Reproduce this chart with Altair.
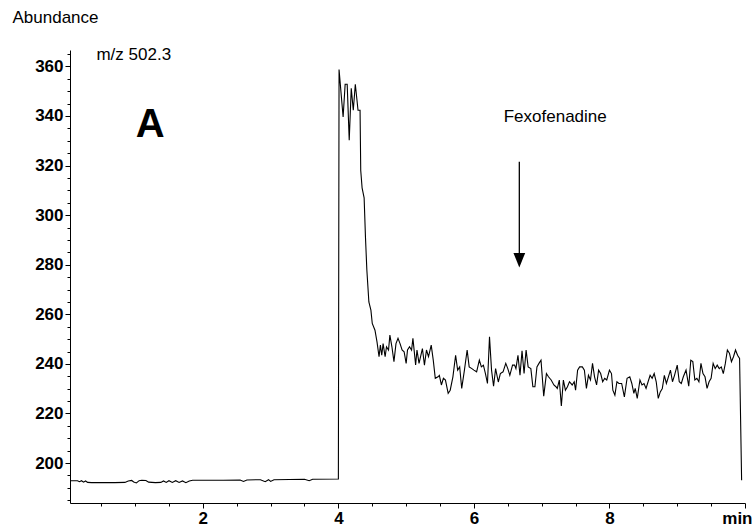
import altair as alt
import pandas as pd

# ---- data (time in min, abundance) ----
time_min = [
    0.05, 0.15, 0.18, 0.21, 0.24, 0.27, 0.30, 0.36, 0.50, 0.70, 0.85, 0.90, 0.95, 0.98,
    1.02, 1.06, 1.10, 1.16, 1.20, 1.30, 1.38, 1.42, 1.46, 1.50, 1.55, 1.60, 1.65, 1.70,
    1.75, 1.80, 1.85, 2.00, 2.30, 2.55, 2.60, 2.65, 2.85, 2.92, 2.97, 3.00, 3.05, 3.50,
    3.57, 3.62, 4.00,
    4.01, 4.07, 4.10, 4.13, 4.16, 4.19, 4.22, 4.25, 4.29, 4.32, 4.33, 4.35, 4.38, 4.40,
    4.42, 4.45, 4.48, 4.50, 4.54, 4.57,
    4.60, 4.62, 4.64, 4.66, 4.69, 4.71, 4.74, 4.76, 4.79, 4.82, 4.85, 4.88, 4.91, 4.94,
    4.97, 5.00, 5.02, 5.05, 5.08, 5.10, 5.14, 5.16, 5.19,
    5.24, 5.27, 5.30, 5.33, 5.37, 5.40, 5.43, 5.47, 5.49, 5.52, 5.55, 5.58, 5.62, 5.65,
    5.69, 5.73, 5.76, 5.79, 5.82, 5.86, 5.90, 5.93, 5.97, 6.00, 6.04, 6.08, 6.11, 6.14,
    6.17, 6.20, 6.23, 6.26, 6.29, 6.32, 6.36, 6.39, 6.43, 6.47, 6.50, 6.53, 6.57, 6.60,
    6.62, 6.65, 6.68, 6.71, 6.74, 6.77, 6.80,
    6.84, 6.87, 6.90, 6.93, 6.96, 6.99, 7.03, 7.07, 7.10, 7.14, 7.18, 7.21, 7.23, 7.26,
    7.29, 7.32, 7.35, 7.38, 7.41, 7.45, 7.48, 7.50, 7.53, 7.56, 7.60, 7.63, 7.66, 7.69,
    7.72, 7.75, 7.78, 7.81, 7.84, 7.87, 7.90, 7.93, 7.96, 8.00, 8.03, 8.05, 8.08, 8.11,
    8.14, 8.18, 8.22, 8.26,
    8.30, 8.33, 8.36, 8.38, 8.41, 8.45, 8.48, 8.51, 8.54, 8.57, 8.60, 8.63, 8.66, 8.69,
    8.72, 8.75, 8.78, 8.81, 8.84, 8.87, 8.90, 8.93, 8.96, 9.00, 9.03, 9.06, 9.09, 9.13,
    9.17, 9.20, 9.23, 9.26, 9.29, 9.32, 9.35, 9.38, 9.41, 9.44, 9.47, 9.50, 9.53, 9.56,
    9.59, 9.62, 9.65, 9.68, 9.71, 9.74, 9.77, 9.80, 9.83, 9.86, 9.89, 9.92, 9.95,
]
abundance = [
    192.9, 192.9, 192.5, 192.9, 192.3, 192.8, 192.2, 192.1, 192.1, 192.1, 192.2, 192.8, 193.0, 192.4,
    192.0, 192.9, 193.1, 193.0, 192.3, 192.1, 192.2, 192.8, 192.2, 192.9, 192.2, 192.9, 192.2, 192.8,
    192.1, 192.8, 193.1, 193.1, 193.1, 193.2, 192.6, 193.2, 193.3, 192.5, 193.3, 192.6, 193.3, 193.5,
    192.9, 193.5, 193.6,
    358.7, 339.6, 352.8, 352.8, 330.2, 351.2, 342.3, 352.8, 342.3, 342.3, 318.0, 311.0, 307.0, 291.0,
    278.0, 265.0, 261.7, 256.3, 253.6, 248.9,
    242.9, 247.6, 243.5, 248.2, 242.9, 246.9, 245.6, 251.6, 246.9, 240.9, 248.2, 250.3, 248.2, 245.6,
    244.9, 240.2, 245.6, 246.9, 245.6, 250.3, 239.6, 245.6, 240.2,
    246.2, 239.5, 245.6, 242.9, 247.6, 241.5, 234.2, 234.8, 235.4, 231.5, 234.2, 233.5, 228.1, 229.4,
    234.8, 243.5, 237.5, 238.8, 230.1, 237.5, 245.6, 238.8, 238.1, 237.5, 236.8, 241.5, 238.8, 239.5,
    236.1, 232.1, 250.9, 237.5, 231.0, 238.1, 232.7, 236.1, 236.8, 240.2, 238.1, 235.4, 239.5, 239.5,
    238.1, 243.5, 235.4, 245.3, 236.1, 245.6, 238.8,
    238.1, 230.8, 230.8, 238.8, 240.2, 241.5, 227.0, 236.1, 234.8, 233.5, 231.5, 230.8, 230.1, 233.5,
    223.0, 233.5, 229.4, 230.8, 232.8, 231.5, 232.8, 229.4, 237.5, 238.8, 238.8, 237.5, 230.1, 235.4,
    233.5, 240.2, 234.8, 231.5, 237.5, 236.1, 232.8, 234.2, 233.5, 237.5, 236.1, 229.4, 227.4, 232.8,
    232.1, 232.1, 226.7, 234.2,
    234.8, 232.1, 228.1, 230.1, 226.1, 233.5, 231.5, 232.1, 230.1, 232.8, 235.4, 234.2, 236.1, 232.8,
    226.1, 228.7, 230.1, 235.4, 232.1, 234.8, 237.5, 232.8, 235.4, 239.5, 232.8, 232.1, 234.8, 237.5,
    231.0, 241.5, 240.9, 233.5, 234.2, 232.8, 240.2, 236.1, 234.8, 230.1, 232.8, 234.2, 240.2, 238.1,
    239.5, 238.1, 238.8, 236.1, 240.2, 245.6, 244.3, 240.9, 242.9, 245.6, 243.5, 242.2, 193.1,
]

# axis ticks
x_tick_values = [0.5 * i for i in range(1, 21)]      # minor every 0.5 min, labels on 2,4,6,8 and "min" at 10
y_tick_values = list(range(185, 370, 5))              # minor every 5, labels every 20

# annotations
arrow_x = [6.67]
arrow_top = [321.5]
arrow_bottom = [283.9]
arrow_head_y = [281.8]

label_mz = ["m/z 502.3"]
label_mz_x = [0.43]
label_mz_y = [362.5]

label_panel = ["A"]
label_panel_x = [1.01]
label_panel_y = [331.5]

label_drug = ["Fexofenadine"]
label_drug_x = [7.20]
label_drug_y = [337.5]

FONT = "Liberation Sans"

df = pd.DataFrame({"t": time_min, "v": abundance})
x_scale = alt.Scale(domain=[0.04, 10.0], nice=False, zero=False)
y_scale = alt.Scale(domain=[183.9, 366.6], nice=False, zero=False)

x_axis = alt.Axis(
    values=x_tick_values,
    labelExpr="datum.value == 10 ? 'min' : (datum.value % 2 == 0 ? format(datum.value, 'd') : '')",
    tickSize={"condition": {"test": "datum.value % 2 == 0", "value": 5}, "value": 3},
    labelAlign={"condition": {"test": "datum.value == 10", "value": "right"}, "value": "center"},
    labelOffset={"condition": {"test": "datum.value == 10", "value": 7}, "value": 0},
    labelOverlap=False,
    labelFlush=False,
    grid=False,
    title=None,
    domainColor="black",
    tickColor="black",
    labelColor="black",
    labelFont=FONT,
    labelFontSize=17,
    labelFontWeight="bold",
    labelPadding=2,
)
y_axis = alt.Axis(
    values=y_tick_values,
    labelExpr="datum.value % 20 == 0 ? format(datum.value, 'd') : ''",
    tickSize={"condition": {"test": "datum.value % 20 == 0", "value": 5}, "value": 3},
    labelOverlap=False,
    grid=False,
    title="Abundance",
    titleAngle=0,
    titleAlign="left",
    titleBaseline="middle",
    titleX=-58,
    titleY=-33,
    titleFont=FONT,
    titleFontSize=17,
    titleFontWeight="normal",
    titleColor="black",
    domainColor="black",
    tickColor="black",
    labelColor="black",
    labelFont=FONT,
    labelFontSize=17,
    labelFontWeight="bold",
    labelPadding=2,
)


def X(field):
    return alt.X(field, type="quantitative", scale=x_scale, axis=x_axis)


def Y(field):
    return alt.Y(field, type="quantitative", scale=y_scale, axis=y_axis)


line = alt.Chart(df).mark_line(color="black", strokeWidth=1.1).encode(
    x=X("t"),
    y=Y("v"),
)

arrow_df = pd.DataFrame({"x": arrow_x, "y": arrow_top, "y2": arrow_bottom, "yh": arrow_head_y})
arrow = alt.Chart(arrow_df).mark_rule(color="black", strokeWidth=1.3).encode(
    x=X("x"),
    y=Y("y"),
    y2="y2:Q",
)
head = alt.Chart(arrow_df).mark_point(
    shape="M-0.8,-1L0.8,-1L0,1Z", filled=True, size=216, color="black", opacity=1
).encode(
    x=X("x"),
    y=Y("yh"),
)


def text_layer(texts, xs, ys, size, weight, align):
    d = pd.DataFrame({"label": texts, "x": xs, "y": ys})
    return alt.Chart(d).mark_text(
        font=FONT, fontSize=size, fontWeight=weight, align=align,
        baseline="alphabetic", color="black",
    ).encode(
        x=X("x"),
        y=Y("y"),
        text="label:N",
    )


t_mz = text_layer(label_mz, label_mz_x, label_mz_y, 17, "normal", "left")
t_a = text_layer(label_panel, label_panel_x, label_panel_y, 40, "bold", "left")
t_drug = text_layer(label_drug, label_drug_x, label_drug_y, 17, "normal", "center")

chart = alt.layer(line, arrow, head, t_mz, t_a, t_drug).properties(
    width=675,
    height=453,
    padding={"left": 70, "top": 50, "right": 11, "bottom": 28},
    autosize=alt.AutoSizeParams(type="none"),
    background="white",
).configure_view(stroke=None)

chart.save("out.html", embed_options={"renderer": "svg", "actions": False})
